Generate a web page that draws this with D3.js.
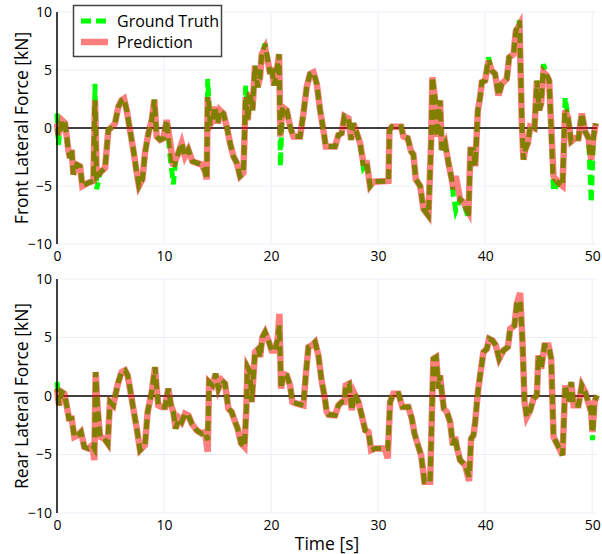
<!DOCTYPE html>
<html>
<head>
<meta charset="utf-8">
<script src="https://cdn.jsdelivr.net/npm/d3@7"></script>
<style>
  body { margin: 0; background: #fff; }
  text { font-family: "Open Sans", sans-serif; fill: #000; }
</style>
</head>
<body>
<div id="chart"></div>
<script>
// front axle
const frontTime = [0.00, 0.12, 0.44, 0.75, 1.06, 1.21, 1.37, 1.53, 1.84, 2.15, 2.37, 2.93, 3.40, 3.55, 3.71, 4.02, 4.49, 4.80, 5.17, 5.42,
  5.73, 6.04, 6.26, 6.51, 6.82, 7.13, 7.45, 7.66, 7.98, 8.22, 8.54, 8.85, 9.10, 9.31, 9.63, 9.94, 10.25, 10.56, 10.87, 11.09,
  11.34, 11.65, 11.96, 12.27, 12.65, 13.05, 13.52, 13.83, 13.99, 14.08, 14.30, 14.52, 14.77, 15.02, 15.23, 15.55, 15.86, 16.17, 16.48, 16.79,
  17.10, 17.41, 17.51, 17.63, 17.82, 18.04, 18.26, 18.50, 18.75, 18.97, 19.13, 19.44, 19.75, 19.91, 20.06, 20.28, 20.53, 20.75, 20.87, 21.06,
  21.46, 21.78, 22.09, 22.71, 23.02, 23.33, 23.64, 23.96, 24.27, 24.58, 24.89, 25.11, 25.36, 25.98, 26.29, 26.60, 26.85, 27.23, 27.48, 27.69,
  28.01, 28.32, 28.63, 28.94, 29.25, 29.56, 30.97, 31.06, 31.28, 32.15, 32.37, 32.77, 33.08, 33.30, 33.52, 33.93, 34.24, 34.70, 34.95, 35.07,
  35.33, 35.48, 35.79, 35.95, 36.26, 36.57, 36.88, 37.04, 37.26, 37.66, 37.98, 38.44, 38.63, 38.91, 39.07, 39.32, 39.53, 39.69, 40.00, 40.31,
  40.62, 40.93, 41.25, 41.56, 42.02, 42.24, 42.65, 42.87, 43.21, 43.43, 43.58, 43.74, 43.99, 44.21, 44.61, 44.84, 45.05, 45.23, 45.45, 45.76,
  45.98, 46.39, 46.85, 47.23, 47.48, 47.73, 48.04, 48.41, 48.72, 49.03, 49.35, 49.66, 49.91, 50.12, 50.34];
const frontTruth = [1.25, -1.45, 0.68, 0.40, -1.88, -2.59, -1.88, -4.00, -3.15, -3.30, -5.00, -4.72, -4.57, 3.81, -5.28, -3.86, -3.44, -0.17, 0.11, 0.40,
  1.82, 2.39, 2.53, 1.53, -0.17, -1.88, -3.86, -5.00, -4.43, -2.16, -0.45, 0.68, 2.44, -0.74, -1.02, -0.88, 0.68, -2.44, -4.86, -2.73,
  -2.16, -1.31, -2.44, -1.88, -2.87, -3.01, -3.15, -3.72, -4.43, 4.23, 0.26, 0.68, 1.82, 0.40, 1.53, 1.25, 0.11, -1.31, -2.44, -3.01,
  -4.15, -3.86, -1.02, 3.66, 0.68, 3.10, 1.53, 5.37, 3.52, 4.38, 6.36, 7.27, 5.51, 4.66, 5.23, 3.66, 4.94, 6.36, -3.30, 1.82,
  1.53, 0.11, -0.74, -0.74, 1.25, 3.52, 4.66, 4.80, 3.81, 1.53, -0.17, -1.59, -1.59, -1.59, -0.60, -0.45, 1.02, 0.82, -1.02, 0.40,
  -0.45, -1.31, -3.44, -3.01, -5.00, -4.63, -4.57, -0.17, 0.11, 0.11, -0.74, -0.88, -2.02, -2.30, -4.43, -5.00, -6.99, -7.56, -1.31, 4.38,
  2.39, -0.74, 2.39, -1.88, -1.31, -3.01, -4.43, -5.85, -7.13, -6.14, -6.42, -7.78, -1.88, -1.88, -3.30, 1.53, 2.67, 3.95, 4.09, 6.08,
  4.94, 4.66, 2.81, 3.81, 4.23, 6.08, 6.36, 8.35, 9.26, 0.40, -2.73, -1.88, -1.31, 0.11, -0.03, 4.09, 1.53, 2.10, 5.51, 4.52,
  4.09, -5.43, -4.72, -5.00, 2.61, 0.97, -1.16, -0.88, -0.88, 1.25, -0.31, -0.88, -6.42, -0.74, 0.40];
const frontPred = [0.40, -0.60, 0.68, 0.40, -1.88, -2.59, -1.88, -4.00, -3.15, -3.30, -5.00, -4.72, -4.57, 2.39, -4.15, -3.86, -3.44, -0.17, 0.11, 0.40,
  1.82, 2.39, 2.53, 1.53, -0.17, -1.88, -3.86, -5.00, -4.43, -2.16, -0.45, 0.68, 2.44, -0.74, -1.02, -0.88, 0.68, -1.16, -3.30, -2.73,
  -2.16, -1.31, -2.44, -1.88, -2.87, -3.01, -3.15, -3.72, -4.43, 2.67, 0.26, 0.68, 1.82, 0.40, 1.53, 1.25, 0.11, -1.31, -2.44, -3.01,
  -4.15, -3.86, -1.02, 2.67, 0.68, 3.10, 1.53, 5.37, 3.52, 4.38, 6.36, 6.93, 5.51, 4.66, 5.23, 3.66, 4.94, 6.36, -0.74, 1.82,
  1.53, 0.11, -0.74, -0.74, 1.25, 3.52, 4.66, 4.80, 3.81, 1.53, -0.17, -1.59, -1.59, -1.59, -0.60, -0.45, 1.02, 0.82, -1.02, 0.40,
  -0.45, -1.31, -3.01, -3.01, -5.00, -4.63, -4.57, -0.17, 0.11, 0.11, -0.74, -0.88, -2.02, -2.30, -4.43, -5.00, -6.99, -7.56, -1.31, 4.38,
  2.39, -0.74, 2.39, -1.88, -1.31, -3.01, -4.43, -5.28, -4.15, -6.14, -6.42, -7.22, -1.88, -1.88, -3.30, 1.53, 2.67, 3.95, 4.09, 5.80,
  4.94, 4.66, 2.81, 3.81, 4.23, 6.08, 6.36, 8.35, 8.92, 0.40, -2.73, -1.88, -1.31, 0.11, -0.03, 4.09, 1.53, 2.10, 4.80, 4.52,
  4.09, -4.15, -4.72, -5.00, 1.53, 0.97, -1.16, -0.88, -0.88, 1.25, -0.31, -0.88, -2.73, -0.74, 0.40];

// rear axle
const rearTime = [0.00, 0.19, 0.44, 0.69, 0.90, 1.12, 1.37, 1.62, 1.93, 2.24, 2.55, 2.93, 3.30, 3.49, 3.61, 3.80, 4.02, 4.42, 4.74, 4.95,
  5.26, 5.48, 5.73, 6.04, 6.36, 6.60, 6.82, 7.13, 7.45, 7.76, 8.22, 8.47, 8.85, 9.16, 9.31, 9.47, 9.78, 10.09, 10.40, 10.65,
  10.87, 11.09, 11.40, 11.65, 11.96, 12.27, 12.59, 13.05, 13.52, 13.83, 14.08, 14.21, 14.52, 14.83, 15.08, 15.39, 15.70, 16.01, 16.32, 16.64,
  16.88, 17.20, 17.51, 17.69, 17.79, 18.04, 18.19, 18.50, 18.82, 18.97, 19.19, 19.44, 19.75, 20.06, 20.37, 20.62, 20.78, 20.93, 21.15, 21.46,
  21.78, 21.99, 22.40, 23.02, 23.24, 23.49, 23.80, 24.11, 24.42, 24.74, 24.98, 25.20, 25.36, 25.98, 26.29, 26.60, 26.85, 26.98, 27.29, 27.54,
  27.79, 28.16, 28.47, 28.79, 29.10, 29.35, 29.72, 30.65, 30.90, 31.12, 31.43, 31.90, 32.27, 32.83, 33.15, 33.40, 33.77, 34.02, 34.33, 34.86,
  35.02, 35.17, 35.42, 35.64, 35.79, 35.95, 36.14, 36.42, 36.73, 36.98, 37.20, 37.35, 37.66, 38.13, 38.50, 38.69, 38.91, 39.07, 39.32, 39.53,
  39.84, 40.16, 40.37, 40.69, 41.00, 41.31, 41.71, 42.12, 42.34, 42.74, 42.96, 43.27, 43.49, 43.68, 43.89, 44.21, 44.52, 44.83, 44.98, 45.23,
  45.55, 45.92, 46.17, 46.39, 46.85, 47.23, 47.48, 47.79, 48.04, 48.26, 48.72, 49.03, 49.35, 49.72, 49.91, 50.03, 50.22, 50.44];
const rearTruth = [1.19, -0.80, 0.34, 0.20, -0.80, -1.93, -1.93, -3.49, -3.35, -3.07, -4.35, -4.49, -4.20, -4.49, 2.05, -1.08, -3.49, -3.64, -4.06, -0.51,
  -0.80, 0.20, 1.19, 2.05, 2.19, 1.76, 0.63, -1.08, -2.78, -4.63, -4.20, -1.36, 0.34, 2.47, 0.63, -0.80, -0.94, -0.94, 0.63, -0.80,
  -1.36, -2.78, -1.93, -2.22, -1.51, -1.65, -2.36, -2.93, -3.21, -3.07, -3.78, 1.19, 0.91, 1.90, 0.63, 1.34, 1.05, -1.08, -1.36, -2.22,
  -2.78, -4.06, -4.35, -1.08, 2.47, 2.05, -0.51, 3.75, 4.03, 3.32, 5.03, 5.45, 4.74, 3.89, 3.89, 4.89, 6.02, 0.63, 1.90, 1.76,
  0.91, -0.51, -0.65, -0.80, 1.76, 4.18, 4.32, 4.60, 3.47, 1.19, 0.06, -1.36, -1.59, -1.65, -0.80, -0.51, -0.51, 0.91, 1.05, -1.22,
  0.20, -0.51, -1.65, -2.93, -3.07, -4.63, -4.49, -4.49, -4.49, -0.51, 0.20, 0.20, -0.94, -0.94, -1.93, -3.21, -4.35, -5.06, -7.33, -7.33,
  -1.65, 3.18, 3.32, 0.63, 1.76, 0.34, -1.08, -1.36, -2.22, -4.20, -3.49, -4.35, -5.48, -5.91, -6.90, -3.64, -3.35, -2.22, 0.34, 1.76,
  3.75, 4.03, 4.89, 4.74, 4.32, 3.18, 3.89, 4.18, 5.74, 6.02, 7.87, 8.15, 4.60, -0.51, -1.79, -1.22, -0.23, 0.06, 3.47, 2.33,
  4.32, 4.32, 3.18, -3.49, -4.35, -5.06, 0.91, -0.51, 1.19, -0.80, -0.80, 0.91, 0.34, -0.80, -1.36, -3.78, -0.51, 0.06];
const rearPred = [0.63, -0.80, 0.34, 0.20, -0.80, -1.93, -1.93, -3.49, -3.35, -3.07, -4.35, -4.49, -4.20, -5.48, 2.05, -1.08, -3.49, -3.64, -4.06, -0.51,
  -0.80, 0.20, 1.19, 2.05, 2.19, 1.76, 0.63, -1.08, -2.78, -4.63, -4.20, -1.36, 0.34, 2.47, 0.63, -0.80, -0.94, -0.94, 0.63, -0.80,
  -1.36, -2.78, -1.93, -2.22, -1.51, -1.65, -2.36, -2.93, -3.21, -3.07, -4.77, 1.19, 0.91, 1.90, 0.63, 1.34, 1.05, -1.08, -1.36, -2.22,
  -2.78, -4.06, -4.35, -1.08, 2.47, 2.05, -0.51, 3.75, 4.03, 3.32, 5.03, 5.45, 4.74, 3.89, 3.89, 4.89, 7.02, 0.63, 1.90, 1.76,
  0.91, -0.51, -0.65, -0.80, 1.76, 4.18, 4.32, 4.60, 3.47, 1.19, 0.06, -1.36, -1.59, -1.65, -0.80, -0.51, -0.51, 0.91, 1.05, -1.22,
  0.20, -0.51, -1.65, -2.93, -3.07, -4.63, -4.49, -4.49, -5.34, -0.51, 0.20, 0.20, -0.94, -0.94, -1.93, -3.21, -4.35, -5.06, -7.33, -7.33,
  -1.65, 3.18, 3.32, 0.63, 1.76, 0.34, -1.08, -1.36, -2.22, -4.20, -3.49, -4.35, -5.48, -5.91, -7.27, -3.64, -3.35, -2.22, 0.34, 1.76,
  3.75, 4.03, 4.89, 4.74, 4.32, 3.18, 3.89, 4.18, 5.74, 6.02, 7.87, 8.81, 4.60, -0.51, -1.79, -1.22, -0.23, 0.06, 3.47, 2.33,
  4.32, 4.32, 3.18, -3.49, -4.35, -5.06, 0.91, -0.51, 1.19, -0.80, -0.80, 0.91, 0.34, -0.80, -1.36, -3.07, -0.51, 0.06];

const xTicks = [0, 10, 20, 30, 40, 50];
const yTicks = [-10, -5, 0, 5, 10];
const seriesNames = ["Ground Truth", "Prediction"];

const svgWidth = 602;
const svgHeight = 554;
const plotLeft = 57;
const plotRight = 597;

const svg = d3.select("#chart")
  .append("svg")
  .attr("width", svgWidth)
  .attr("height", svgHeight);

const xScale = d3.scaleLinear()
  .domain([0, 50.45])
  .range([plotLeft, plotRight]);

const panels = [
  { top: 12, bottom: 244, title: "Front Lateral Force [kN]", time: frontTime, truth: frontTruth, pred: frontPred },
  { top: 279, bottom: 513, title: "Rear Lateral Force [kN]", time: rearTime, truth: rearTruth, pred: rearPred }
];

const fmt = d3.format("");

panels.forEach(function(p) {
  const yScale = d3.scaleLinear().domain([-10, 10]).range([p.bottom, p.top]);
  const g = svg.append("g");

  // grid
  g.selectAll(".vgrid")
    .data(xTicks.filter(d => d > 0))
    .enter()
    .append("line")
    .attr("x1", d => xScale(d))
    .attr("x2", d => xScale(d))
    .attr("y1", p.top)
    .attr("y2", p.bottom)
    .attr("stroke", "#ebf0f8")
    .attr("stroke-width", 1);

  g.selectAll(".hgrid")
    .data(yTicks.filter(d => d !== 0))
    .enter()
    .append("line")
    .attr("x1", plotLeft)
    .attr("x2", plotRight)
    .attr("y1", d => yScale(d))
    .attr("y2", d => yScale(d))
    .attr("stroke", "#ebf0f8")
    .attr("stroke-width", 1);

  // zero line
  g.append("line")
    .attr("x1", plotLeft)
    .attr("x2", plotRight)
    .attr("y1", yScale(0))
    .attr("y2", yScale(0))
    .attr("stroke", "#000")
    .attr("stroke-width", 1.5);

  const line = d3.line()
    .x((d, i) => xScale(p.time[i]))
    .y(d => yScale(d));

  g.append("path")
    .attr("d", line(p.truth))
    .attr("fill", "none")
    .attr("stroke", "#00ff00")
    .attr("stroke-width", 5)
    .attr("stroke-dasharray", "10,5");

  g.append("path")
    .attr("d", line(p.pred))
    .attr("fill", "none")
    .attr("stroke", "#ff0000")
    .attr("stroke-opacity", 0.5)
    .attr("stroke-width", 6.5);

  // left axis line
  g.append("line")
    .attr("x1", plotLeft)
    .attr("x2", plotLeft)
    .attr("y1", p.top)
    .attr("y2", p.bottom)
    .attr("stroke", "#000")
    .attr("stroke-width", 1.5);

  const yAxis = d3.axisLeft(yScale).tickValues(yTicks).tickSize(0).tickPadding(5).tickFormat(fmt);
  g.append("g")
    .attr("transform", `translate(${plotLeft},0)`)
    .call(yAxis)
    .call(a => a.select(".domain").remove())
    .selectAll("text")
    .attr("font-size", 14)
    .attr("font-family", "Open Sans, sans-serif")
    .attr("fill", "#000");

  const xAxis = d3.axisBottom(xScale).tickValues(xTicks).tickSize(0).tickPadding(7).tickFormat(fmt);
  g.append("g")
    .attr("transform", `translate(0,${p.bottom})`)
    .call(xAxis)
    .call(a => a.select(".domain").remove())
    .selectAll("text")
    .attr("font-size", 14)
    .attr("font-family", "Open Sans, sans-serif")
    .attr("fill", "#000");

  svg.append("text")
    .attr("transform", `translate(28,${(p.top + p.bottom) / 2}) rotate(-90)`)
    .attr("text-anchor", "middle")
    .attr("font-size", 17.5)
    .text(p.title);
});

svg.append("text")
  .attr("x", (plotLeft + plotRight) / 2)
  .attr("y", 550)
  .attr("text-anchor", "middle")
  .attr("font-size", 17.5)
  .text("Time [s]");

// legend
const legend = svg.append("g");
legend.append("rect")
  .attr("x", 73.5)
  .attr("y", 5.5)
  .attr("width", 148)
  .attr("height", 51)
  .attr("fill", "#fff")
  .attr("stroke", "#444")
  .attr("stroke-width", 1.5);

const legendRows = legend.selectAll(".row")
  .data(seriesNames)
  .enter()
  .append("g")
  .attr("transform", (d, i) => `translate(0,${21 + i * 21})`);

legendRows.append("line")
  .attr("x1", 81)
  .attr("x2", 108)
  .attr("y1", 0)
  .attr("y2", 0)
  .attr("stroke", (d, i) => i === 0 ? "#00ff00" : "#ff0000")
  .attr("stroke-opacity", (d, i) => i === 0 ? 1 : 0.5)
  .attr("stroke-width", (d, i) => i === 0 ? 5 : 6.5)
  .attr("stroke-dasharray", (d, i) => i === 0 ? "10,5" : null);

legendRows.append("text")
  .attr("x", 117)
  .attr("y", 0)
  .attr("dy", "0.36em")
  .attr("font-size", 16)
  .text(d => d);
</script>
</body>
</html>
